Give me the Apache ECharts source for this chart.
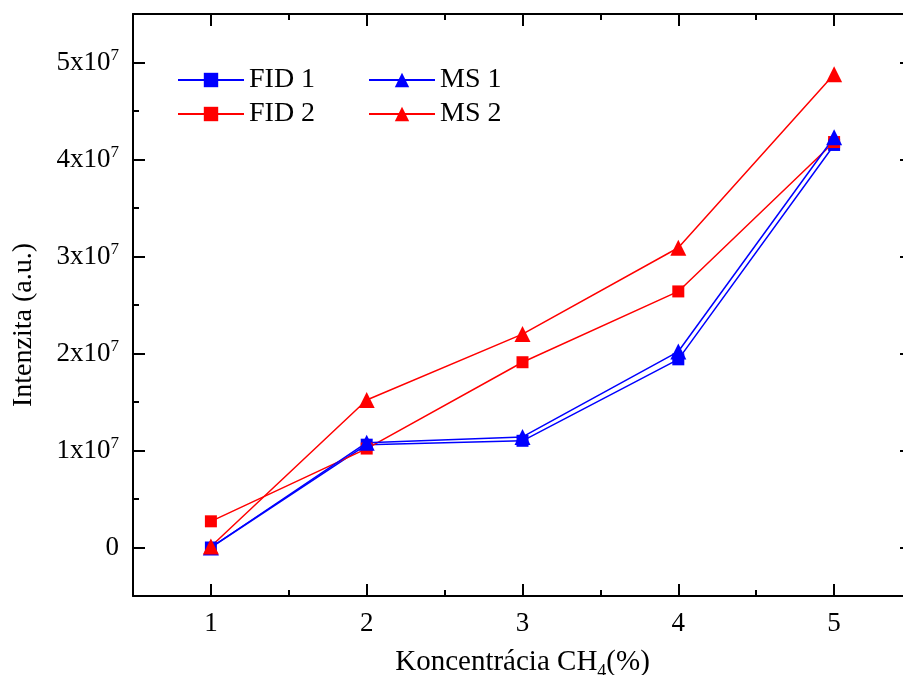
<!DOCTYPE html>
<html>
<head>
<meta charset="utf-8">
<script src="https://cdn.jsdelivr.net/npm/echarts@6/dist/echarts.min.js"></script>
<style>
html,body{margin:0;padding:0;background:#fff;}
#chart{width:903px;height:675px;}
</style>
</head>
<body>
<div id="chart"></div>
<script>
// ---- data ----
const concentrations = [1, 2, 3, 4, 5];
const fid1 = [0.00e7, 1.06e7, 1.10e7, 1.94e7, 4.15e7];
const fid2 = [0.27e7, 1.02e7, 1.91e7, 2.64e7, 4.18e7];
const ms1  = [0.00e7, 1.08e7, 1.14e7, 2.02e7, 4.23e7];
const ms2  = [0.01e7, 1.52e7, 2.20e7, 3.09e7, 4.88e7];
const xMajorTicks = [1, 2, 3, 4, 5];
const xMinorTicks = [1.5, 2.5, 3.5, 4.5];
const yMajorTicks = [0, 1e7, 2e7, 3e7, 4e7, 5e7];
const yMinorTicks = [0.5e7, 1.5e7, 2.5e7, 3.5e7, 4.5e7];
const seriesNames = ['FID 1', 'FID 2', 'MS 1', 'MS 2'];

const FONT = '"Liberation Serif", "Times New Roman", serif';
const BLUE = '#0000ff', RED = '#ff0000';

const chart = echarts.init(document.getElementById('chart'), null, {renderer: 'canvas'});

function xAxisDef(pos, ticks, len, showLine, showLabel) {
  return {
    type: 'value', position: pos, min: 0.5, max: 5.5, interval: 0.5,
    axisLine: {show: showLine, onZero: false, lineStyle: {color: '#000', width: 2}},
    axisTick: {show: true, inside: true, length: len, customValues: ticks, lineStyle: {color: '#000', width: 2}},
    axisLabel: {show: showLabel, customValues: xMajorTicks, fontFamily: FONT, fontSize: 27, color: '#000', margin: 14},
    splitLine: {show: false}
  };
}
function yAxisDef(pos, ticks, len, showLine, showLabel) {
  return {
    type: 'value', position: pos, min: -0.5e7, max: 5.5e7, interval: 0.5e7,
    axisLine: {show: showLine, onZero: false, lineStyle: {color: '#000', width: 2}},
    axisTick: {show: true, inside: true, length: len, customValues: ticks, lineStyle: {color: '#000', width: 2}},
    axisLabel: {
      show: showLabel, customValues: yMajorTicks, margin: 14, color: '#000',
      formatter: function (v) {
        if (v === 0) return '{a|0}';
        return '{a|' + Math.round(v / 1e7) + 'x10}{s|7}';
      },
      rich: {
        a: {fontFamily: FONT, fontSize: 27, color: '#000'},
        s: {fontFamily: FONT, fontSize: 17, color: '#000', padding: [0, 0, 14, 0]}
      }
    },
    splitLine: {show: false}
  };
}

const xAxes = [
  Object.assign(xAxisDef('bottom', xMajorTicks, 12, true, true), {
    name: 'Koncentrácia CH{sub|4}(%)', nameLocation: 'middle', nameGap: 47,
    nameTextStyle: {fontFamily: FONT, fontSize: 29, color: '#000',
      rich: {sub: {fontFamily: FONT, fontSize: 18, color: '#000', padding: [20, 0, 0, 0]}}}
  }),
  xAxisDef('bottom', xMinorTicks, 6, false, false),
  xAxisDef('top', xMajorTicks, 12, true, false),
  xAxisDef('top', xMinorTicks, 6, false, false)
];
const yAxes = [
  yAxisDef('left', yMajorTicks, 12, true, true),
  yAxisDef('left', yMinorTicks, 6, false, false),
  yAxisDef('right', yMajorTicks, 12, true, false),
  yAxisDef('right', yMinorTicks, 6, false, false)
];

function mkSeries(name, values, color, symbol, size) {
  return {
    name: name, type: 'line', xAxisIndex: 0, yAxisIndex: 0,
    data: concentrations.map((c, i) => [c, values[i]]),
    symbol: symbol, symbolSize: size, showSymbol: true,
    lineStyle: {color: color, width: 1.5},
    itemStyle: {color: color},
    emphasis: {disabled: true}
  };
}

const legendCommon = {
  orient: 'vertical', itemWidth: 66, itemHeight: 18, itemGap: 6,
  textStyle: {fontFamily: FONT, fontSize: 28, color: '#000', padding: [0, 0, 0, 0]},
  selectedMode: false
};

chart.setOption({
  animation: false,
  backgroundColor: '#fff',
  grid: {left: 133, top: 14, right: -9, bottom: 79, containLabel: false, outerBoundsMode: 'none'},
  legend: [
    Object.assign({}, legendCommon, {data: [seriesNames[0], seriesNames[1]], left: 172, top: 61}),
    Object.assign({}, legendCommon, {data: [seriesNames[2], seriesNames[3]], left: 363, top: 61})
  ],
  xAxis: xAxes,
  yAxis: yAxes,
  graphic: [{
    type: 'text', x: 24, y: 325, rotation: Math.PI / 2,
    style: {text: 'Intenzita (a.u.)', fontFamily: FONT, fontSize: 28, fill: '#000',
      align: 'center', verticalAlign: 'middle'}
  }],
  series: [
    mkSeries(seriesNames[0], fid1, BLUE, 'rect', 12),
    mkSeries(seriesNames[1], fid2, RED, 'rect', 12),
    mkSeries(seriesNames[2], ms1, BLUE, 'triangle', 16),
    mkSeries(seriesNames[3], ms2, RED, 'triangle', 16)
  ]
});
</script>
</body>
</html>
